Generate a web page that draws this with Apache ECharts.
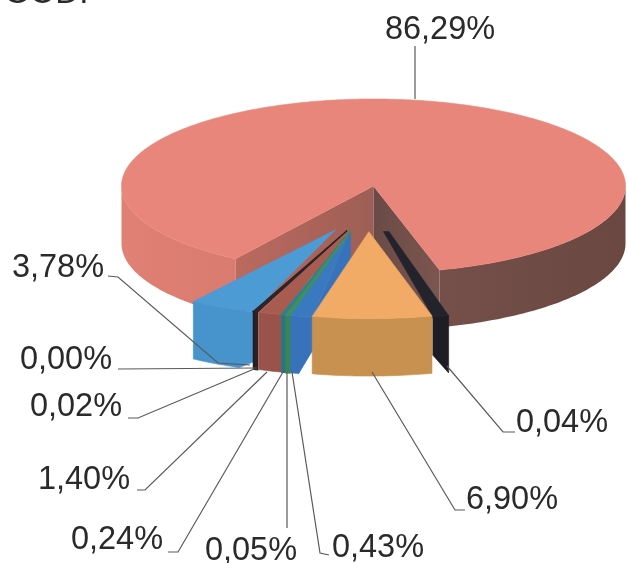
<!DOCTYPE html>
<html><head><meta charset="utf-8">
<style>html,body{margin:0;padding:0;background:#fff}#c{width:628px;height:563px}</style>
<script src="https://cdn.jsdelivr.net/npm/echarts@6/dist/echarts.min.js"></script>
</head><body><div id="c"></div>
<script>
// Printed labels of the chart.
const labels = ['86,29%','3,78%','0,00%','0,02%','1,40%','0,24%','0,05%','0,43%','0,04%','6,90%'];
// The heading is cut off by the top of the scan; only the foot of its letters shows.
const headingText = 'GOD.';
// Drawn sweep of each slice, degrees right (+) / left (-) of the pie's front.
// The source drawing widens its tiny slices, so these are picture readings and not value*3.6.
const sweepFrom = [15.2,-34.4,-21.8,-21.3,-20.8,-15.8,-14.8,-14.0,11.3,-13.0];
const sweepTo   = [326.8,-19.1,-21.3,-20.8,-15.3,-14.8,-14.0,-8.8,15.0,14.5];
// Direction in which each slice is pulled out of the pie, degrees; the main slice stays put.
const pullDir   = [0,-16.6,-11.5,-11.5,-11,-10,-10,-10,4.3,-2];
const pullSize  = [0,.525,.525,.525,.525,.525,.525,.525,.525,.525];

const topColor  = ['#e9867b','#4d9bd4','#25252c','#2f2528','#a85c50','#2f7f8f','#3f8f60','#3a78c0','#23232b','#f2ab66'];
const wallColor = ['#6e4a44','#4793cc','#1f1f25','#2a2224','#99534a','#2b7486','#3a8558','#3872ba','#1d1d23','#c8914f'];
const DEPTH = 0.66, RAD = Math.PI / 180;

// Where a front wall is cut short by the drawing's perspective: slice -> foot angles and edge depths.
const wallCuts = {
  1:{footTo:-22.5,depthTo:.575},
  7:{footTo:-11.9,depthTo:.38,radial:true},
  8:{footFrom:15.0,depthFrom:.44,apexWidth:.022}
};
// The floor of the gap that shows as a sliver behind the pulled-out slices (pie units).
const gapFloor = [[0,DEPTH],[-.12,.78],[-.05,1.2]];

// Leader lines and text anchors, in pixels.
const labelAt = [[440,30],[58,268],[66,360],[76,407],[84,480],[117,540],[251,551],[378,548],[562,423],[512,500]];
const leaders = [
 [[415,46],[415,99]],
 [[108,276],[118,277],[218,363],[250,365]],
 [[118,369],[257,368]],
 [[128,418],[138,418],[254,369]],
 [[137,490],[145,490],[267,372]],
 [[168,552],[178,552],[283,372]],
 [[287,372],[287,528]],
 [[292,372],[320,553],[329,555]],
 [[447,366],[503,432],[515,432]],
 [[372,372],[455,510],[465,510]]
];

function grad(a,b){return {type:'linear',x:0,y:0,x2:1,y2:0,colorStops:[{offset:0,color:a},{offset:1,color:b}]};}
function poly(points,fill,lw){return {type:'polygon',shape:{points},style:{fill,stroke:typeof fill==='string'?fill:null,lineWidth:lw||.6}};}
function renderSlice(params, api){
  const i = api.value(0), from = sweepFrom[i], to = sweepTo[i];
  const ox = pullSize[i]*Math.sin(pullDir[i]*RAD), oy = pullSize[i]*Math.cos(pullDir[i]*RAD);
  const P = (a,r,d)=>api.coord([ox+r*Math.sin(a*RAD), oy+r*Math.cos(a*RAD)+(d||0)]);
  const arc = (a0,a1,d)=>{const n=Math.max(2,Math.ceil(Math.abs(a1-a0))),o=[];for(let k=0;k<=n;k++)o.push(P(a0+(a1-a0)*k/n,1,d));return o;};
  const wall = (a0,a1,fill)=>poly(arc(a0,a1,0).concat(arc(a1,a0,DEPTH)),fill);
  const radial = (a,fill)=>poly([P(0,0),P(a,1),P(a,1,DEPTH),P(0,0,DEPTH)],fill);
  const thin = Math.abs(to-from)<1.1 ? 1.6 : .6;
  let children;
  if(i===0){
    children=[
      wall(from,90,grad('#75504a','#6b4741')),
      wall(270,to,grad('#e18074','#d97b6f')),
      poly(gapFloor.map(p=>api.coord(p)),'#a05c54'),
      radial(to,grad('#bb6a5f','#9e5e55')),
      radial(from,grad('#6b4a46','#7c5650')),
      poly([P(0,0)].concat(arc(from,to,0)),topColor[i])
    ];
  }else{
    const c = wallCuts[i] || {};
    const footFrom = c.footFrom===undefined?from:c.footFrom, footTo = c.footTo===undefined?to:c.footTo;
    const pts = arc(from,to,0);
    if(c.depthTo!==undefined) pts.push(P(to,1,c.depthTo));
    pts.push(...arc(footTo,footFrom,DEPTH));
    if(c.depthFrom!==undefined) pts.push(P(from,1,c.depthFrom));
    children=[];
    if(c.radial) children.push(poly([P(0,0),P(to,1),P(footTo,1,DEPTH),P(0,0,DEPTH)],wallColor[i]));
    children.push(poly(pts,wallColor[i],thin));
    const rim = arc(from,to,0);
    const top = c.apexWidth ? [P(0,0)].concat(rim,[api.coord([ox+c.apexWidth,oy])]) : [P(0,0)].concat(rim);
    children.push(poly(top,topColor[i],thin));
  }
  return {type:'group',children};
}
const labelFont = '32.5px "Liberation Sans", Arial, sans-serif';
function renderLabel(params, api){
  const i = api.value(0);
  return {type:'group',children:[
    {type:'polyline',shape:{points:leaders[i]},style:{fill:null,stroke:'#5a5a5a',lineWidth:1.2}},
    {type:'text',style:{text:labels[i],x:labelAt[i][0],y:labelAt[i][1],align:'center',verticalAlign:'middle',font:labelFont,fill:'#2a2a2a'}}
  ]};
}
const drawOrder = [0,1,2,3,4,7,5,6,8,9];
const chart = echarts.init(document.getElementById('c'),null,{renderer:'canvas'});
chart.setOption({
  animation:false,backgroundColor:'#ffffff',
  graphic:[{type:'text',silent:true,x:4,y:-23,style:{text:headingText,font:'33px "Liberation Sans", Arial, sans-serif',fill:'#2a2a2a'}}],
  grid:{left:121.5,top:99,width:504,height:174},
  xAxis:{type:'value',min:-1,max:1,show:false},
  yAxis:{type:'value',min:-1,max:1,inverse:true,show:false},
  series:[
    {type:'custom',clip:false,silent:true,renderItem:renderSlice,encode:{x:0,y:1},data:drawOrder.map(i=>[i,0])},
    {type:'custom',clip:false,silent:true,z:3,renderItem:renderLabel,encode:{x:1,y:1},data:labels.map((l,i)=>[i,0])}
  ]
});
</script></body></html>
